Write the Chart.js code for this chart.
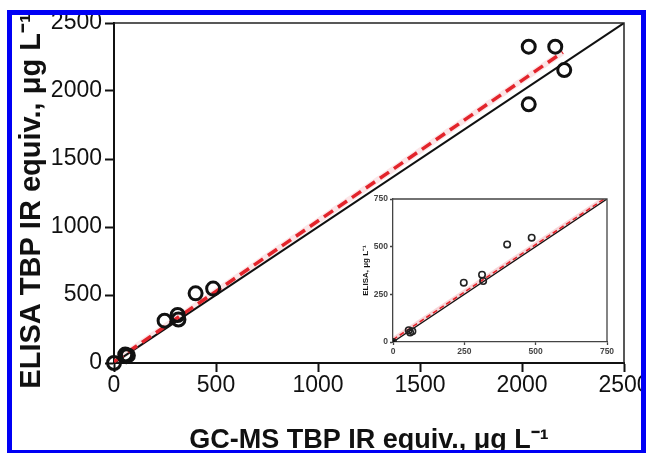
<!DOCTYPE html>
<html>
<head>
<meta charset="utf-8">
<script src="https://cdn.jsdelivr.net/npm/chart.js@4.4.1/dist/chart.umd.min.js"></script>
<style>
  html, body { margin: 0; padding: 0; background: #fff; }
  #wrap { position: relative; width: 647px; height: 453px; overflow: hidden; }
  #main { position: absolute; left: 0; top: 0; }
  #inset { position: absolute; left: 355px; top: 185px; }
  #frame {
    position: absolute; left: 7px; top: 10px; width: 629px; height: 435px;
    border: 5px solid #0000f5; box-shadow: 0 0 0 60px #fff; pointer-events: none;
  }
</style>
</head>
<body>
<div id="wrap">
  <canvas id="main" width="647" height="453"></canvas>
  <canvas id="inset" width="265" height="180"></canvas>
  <div id="frame"></div>
</div>
<script>
// GC-MS vs ELISA samples (µg/L)
const gcms  = [0, 55, 60, 68, 248, 312, 316, 400, 486, 2033, 2033, 2163, 2207];
const elisa = [0, 62, 50, 56, 311, 353, 320, 512, 547, 2326, 1902, 2326, 2154];

// 1:1 line and regression line (main plot)
const idX = [0, 2500];
const idY = [0, 2500];
const fitX = [0, 2200];
const fitY = [10, 2285];

// inset
const insetIdX = [0, 750];
const insetIdY = [0, 750];
const insetFitX = [0, 740];
const insetFitY = [12, 750];

const mainTicks = [0, 500, 1000, 1500, 2000, 2500];
const insetTicks = [0, 250, 500, 750];

const FONT = "'Liberation Sans', Arial, sans-serif";

const toPts = (xs, ys) => xs.map((x, i) => ({ x: x, y: ys[i] }));

// draw top + right edge of the plot box
const boxPlugin = {
  id: 'box',
  afterDraw(chart, args, opts) {
    const { ctx, chartArea: a } = chart;
    ctx.save();
    ctx.strokeStyle = opts.color;
    ctx.lineWidth = opts.width;
    ctx.beginPath();
    ctx.moveTo(a.left, a.top);
    ctx.lineTo(a.right, a.top);
    ctx.lineTo(a.right, a.bottom);
    ctx.stroke();
    ctx.restore();
  }
};

function axis(ticks, max, o) {
  return {
    type: 'linear',
    min: 0,
    max: max,
    afterBuildTicks: (s) => { s.ticks = ticks.map(v => ({ value: v })); },
    ticks: {
      color: o.tickColor,
      font: o.tickFont,
      padding: o.tickPad,
      maxRotation: 0,
      autoSkip: false,
      callback: (v) => String(v)
    },
    grid: {
      drawOnChartArea: false,
      drawTicks: true,
      tickLength: o.tickLen,
      tickWidth: o.lineW,
      tickColor: o.lineColor
    },
    border: { display: true, color: o.lineColor, width: o.lineW },
    title: {
      display: o.title !== '',
      text: o.title,
      color: '#111',
      font: o.titleFont,
      padding: o.titlePad
    },
    afterFit: o.fit
  };
}

new Chart(document.getElementById('main').getContext('2d'), {
  type: 'scatter',
  data: {
    datasets: [
      {
        data: toPts(gcms, elisa),
        showLine: false,
        pointRadius: 6.5,
        pointHoverRadius: 6.5,
        pointBorderWidth: 3,
        pointBorderColor: '#111',
        pointBackgroundColor: 'rgba(0,0,0,0)',
        clip: false,
        order: 0
      },
      {
        data: toPts(fitX, fitY),
        showLine: true,
        borderColor: 'rgba(232,110,120,0.18)',
        borderWidth: 6,
        pointRadius: 0,
        order: 3
      },
      {
        data: toPts(fitX, fitY),
        showLine: true,
        borderColor: '#e3242b',
        borderWidth: 3.5,
        borderDash: [11, 6],
        pointRadius: 0,
        order: 1
      },
      {
        data: toPts(idX, idY),
        showLine: true,
        borderColor: '#111',
        borderWidth: 2,
        pointRadius: 0,
        order: 2
      }
    ]
  },
  options: {
    responsive: false,
    animation: false,
    events: [],
    layout: { padding: { left: 0, top: 23, right: 23, bottom: 0 } },
    plugins: {
      legend: { display: false },
      tooltip: { enabled: false },
      box: { color: '#222', width: 1.5 }
    },
    scales: {
      x: axis(mainTicks, 2500, {
        tickColor: '#111', tickFont: { family: FONT, size: 23 }, tickPad: 0,
        tickLen: 9, lineW: 2, lineColor: '#111',
        title: 'GC-MS TBP IR equiv., \u03bcg L\u207b\u00b9',
        titleFont: { family: FONT, size: 27, weight: 'bold' },
        titlePad: { top: 0, bottom: -4 },
        fit: (s) => { s.height = 90; s.paddingLeft = 0; s.paddingRight = 0; }
      }),
      y: axis(mainTicks, 2500, {
        tickColor: '#111', tickFont: { family: FONT, size: 23 }, tickPad: 3,
        tickLen: 9, lineW: 2, lineColor: '#111',
        title: 'ELISA TBP IR equiv., \u03bcg L\u207b\u00b9\u00a0\u00a0',
        titleFont: { family: FONT, size: 29, weight: 'bold' },
        titlePad: { top: 15, bottom: 0 },
        fit: (s) => { s.width = 114; s.paddingTop = 0; s.paddingBottom = 0; }
      })
    }
  },
  plugins: [boxPlugin]
});

new Chart(document.getElementById('inset').getContext('2d'), {
  type: 'scatter',
  data: {
    datasets: [
      {
        data: toPts(gcms, elisa),
        showLine: false,
        pointRadius: 3.2,
        pointHoverRadius: 3.2,
        pointBorderWidth: 1.6,
        pointBorderColor: '#222',
        pointBackgroundColor: (c) => (c.raw && c.raw.x === 0 ? '#111' : 'rgba(0,0,0,0)'),
        order: 0
      },
      {
        data: toPts(insetFitX, insetFitY),
        showLine: true,
        borderColor: 'rgba(232,120,130,0.3)',
        borderWidth: 5,
        pointRadius: 0,
        order: 3
      },
      {
        data: toPts(insetFitX, insetFitY),
        showLine: true,
        borderColor: '#e3242b',
        borderWidth: 1.6,
        borderDash: [5, 3],
        pointRadius: 0,
        order: 1
      },
      {
        data: toPts(insetIdX, insetIdY),
        showLine: true,
        borderColor: '#111',
        borderWidth: 1.3,
        pointRadius: 0,
        order: 2
      }
    ]
  },
  options: {
    responsive: false,
    animation: false,
    events: [],
    layout: { padding: { left: 0, top: 14, right: 13, bottom: 0 } },
    plugins: {
      legend: { display: false },
      tooltip: { enabled: false },
      box: { color: '#444', width: 1.3 }
    },
    scales: {
      x: axis(insetTicks, 750, {
        tickColor: '#444', tickFont: { family: FONT, size: 8.5, weight: 'bold' }, tickPad: 2,
        tickLen: 3, lineW: 1.3, lineColor: '#444',
        title: '', titleFont: { family: FONT, size: 8 },
        titlePad: { top: 0, bottom: 0 },
        fit: (s) => { s.height = 23; s.paddingLeft = 0; s.paddingRight = 0; }
      }),
      y: axis(insetTicks, 750, {
        tickColor: '#444', tickFont: { family: FONT, size: 8.5, weight: 'bold' }, tickPad: 2,
        tickLen: 3, lineW: 1.3, lineColor: '#444',
        title: 'ELISA, \u03bcg L\u207b\u00b9',
        titleFont: { family: FONT, size: 8, weight: 'bold' },
        titlePad: { top: 6, bottom: 0 },
        fit: (s) => { s.width = 38; s.paddingTop = 0; s.paddingBottom = 0; }
      })
    }
  },
  plugins: [boxPlugin]
});
</script>
</body>
</html>
